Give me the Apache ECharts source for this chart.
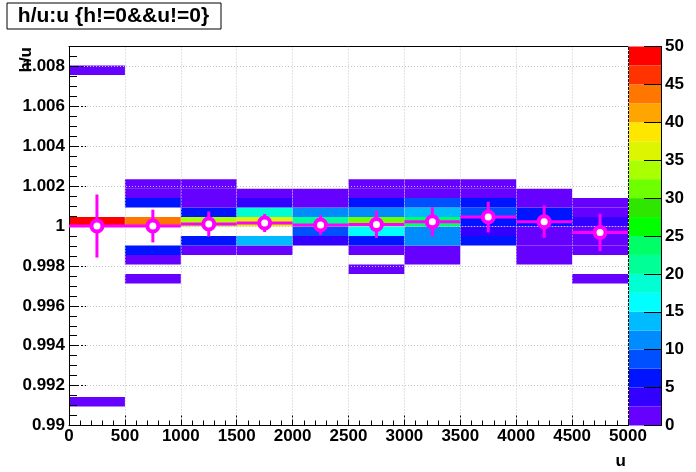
<!DOCTYPE html>
<html><head><meta charset="utf-8">
<script src="https://cdn.jsdelivr.net/npm/echarts@6/dist/echarts.min.js"></script>
<style>html,body{margin:0;padding:0;background:#fff}#c{width:696px;height:472px}</style>
</head><body><div id="c"></div>
<script>
// ---- data ----
const uEdges = [0,500,1000,1500,2000,2500,3000,3500,4000,4500,5000];
const xTickLabels = ['0','500','1000','1500','2000','2500','3000','3500','4000','4500','5000'];
const hMin = 0.99, hMax = 1.009, hBins = 40;
// cells per u-bin: [hBin, count]
const cellsU0 = [[2,1],[21,49],[37,1]];
const cellsU1 = [[15,1],[17,2],[18,6],[21,44],[23,6],[24,1],[25,1]];
const cellsU2 = [[18,1],[19,6],[21,34],[22,6],[23,1],[24,1],[25,1]];
const cellsU3 = [[18,2],[19,14],[21,36],[22,19],[23,4],[24,1]];
const cellsU4 = [[19,4],[20,9],[21,22],[22,11],[23,2],[24,1]];
const cellsU5 = [[16,1],[18,2],[19,6],[20,16],[21,31],[22,11],[23,6],[24,1],[25,1]];
const cellsU6 = [[17,1],[18,2],[19,11],[20,11],[21,23],[22,14],[23,9],[24,1],[25,1]];
const cellsU7 = [[19,6],[20,4],[21,6],[22,9],[23,6],[24,1],[25,1]];
const cellsU8 = [[17,1],[18,1],[19,2],[20,1],[21,6],[22,6],[23,1],[24,1]];
const cellsU9 = [[15,1],[18,1],[19,2],[20,1],[21,4],[22,1],[23,1]];
// profile (mean of h/u per u-bin and its error)
const profMean = [1.0000, 1.0000, 1.0001, 1.00015, 1.00005, 1.00008, 1.00021, 1.00045, 1.00022, 0.99968];
const profErr  = [0.00158, 0.00082, 0.00063, 0.00045, 0.0005, 0.00068, 0.00073, 0.00077, 0.00081, 0.00094];
// colour scale
const zEdges = [0,2.5,5,7.5,10,12.5,15,17.5,20,22.5,25,27.5,30,32.5,35,37.5,40,42.5,45,47.5,50];
const zTickLabels = ['0','5','10','15','20','25','30','35','40','45','50'];
const palette = ['#6600ff','#3300ff','#0014ff','#0050ff','#008cff','#00bbff','#00ffff','#00ffd2','#00ff96','#00ff66',
                 '#00ff00','#2ee600','#6eff00','#aaff00','#ddf500','#ffe600','#ffa500','#ff7700','#ff3300','#ff0000'];

// ---- build ----
const allCells = [cellsU0,cellsU1,cellsU2,cellsU3,cellsU4,cellsU5,cellsU6,cellsU7,cellsU8,cellsU9];
const hStep = (hMax - hMin) / hBins;
const cellData = [];
allCells.forEach((list, i) => list.forEach(([b, n]) => {
  cellData.push([uEdges[i], uEdges[i+1], hMin + b*hStep, hMin + (b+1)*hStep, n]);
}));
const profData = profMean.map((m, i) => [uEdges[i], uEdges[i+1], m, profErr[i]]);
const markerData = profMean.map((m, i) => [(uEdges[i] + uEdges[i+1]) / 2, m]);
const barData = zEdges.slice(0, -1).map((z, i) => [z, zEdges[i+1], i]);
const zMax = zEdges[zEdges.length - 1];
function colorFor(n){ return palette[Math.min(palette.length - 1, Math.floor(n / zMax * palette.length))]; }

const FONT = 'Liberation Sans';
const lbl = {color:'#000', fontFamily:FONT, fontWeight:'bold', fontSize:17};
const chart = echarts.init(document.getElementById('c'), null, {renderer:'canvas'});
chart.setOption({
  animation:false,
  backgroundColor:'#fff',
  grid:[
    {left:69, top:46.5, width:559, height:379, outerBoundsMode:'none', containLabel:false},
    {left:629, top:46.5, width:32, height:379, outerBoundsMode:'none', containLabel:false}
  ],
  xAxis:[
    {type:'value', gridIndex:0, min:0, max:5000, interval:500, position:'bottom', z:4,
     axisLine:{show:true, onZero:false, lineStyle:{color:'#000', width:1}},
     axisTick:{show:true, inside:true, length:11, lineStyle:{color:'#000', type:[2,2]}},
     axisLabel:{...lbl, margin:2, formatter:(v)=>{const i=uEdges.indexOf(v); return i>=0?xTickLabels[i]:'';}},
     splitLine:{show:true, lineStyle:{color:'#c4c4c4', type:[1,2], width:1}}},
    {type:'value', gridIndex:0, min:0, max:5000, interval:100, position:'bottom', z:4,
     axisLine:{show:false, onZero:false}, axisTick:{show:true, inside:true, length:5, lineStyle:{color:'#000'}},
     axisLabel:{show:false}, splitLine:{show:false}},
    {type:'value', gridIndex:0, min:0, max:5000, position:'top', z:4,
     axisLine:{show:true, onZero:false, lineStyle:{color:'#000'}}, axisTick:{show:false}, axisLabel:{show:false}, splitLine:{show:false}},
    {type:'value', gridIndex:1, min:0, max:1, show:false}
  ],
  yAxis:[
    {type:'value', gridIndex:0, min:hMin, max:hMax, interval:0.002, position:'left', z:4,
     axisLine:{show:true, onZero:false, lineStyle:{color:'#000', width:1}},
     axisTick:{show:true, inside:true, length:17, lineStyle:{color:'#000', type:[2,2]}},
     axisLabel:{...lbl, margin:4, showMaxLabel:false, formatter:(v)=>String(+v.toFixed(4))},
     splitLine:{show:true, lineStyle:{color:'#c4c4c4', type:[1,2], width:1}}},
    {type:'value', gridIndex:0, min:hMin, max:hMax, interval:0.0005, position:'left', z:4,
     axisLine:{show:false, onZero:false}, axisTick:{show:true, inside:true, length:8, lineStyle:{color:'#000'}},
     axisLabel:{show:false}, splitLine:{show:false}},
    {type:'value', gridIndex:0, min:hMin, max:hMax, position:'right', z:4,
     axisLine:{show:true, onZero:false, lineStyle:{color:'#000', type:[2,2]}}, axisTick:{show:false}, axisLabel:{show:false}, splitLine:{show:false}},
    {type:'value', gridIndex:1, min:0, max:zMax, interval:5, position:'right', z:4,
     axisLine:{show:true, onZero:false, lineStyle:{color:'#000'}},
     axisTick:{show:true, inside:true, length:17, lineStyle:{color:'#000'}},
     axisLabel:{...lbl, margin:4, formatter:(v)=>{const i=zTickLabels.indexOf(String(v)); return i>=0?zTickLabels[i]:'';}},
     splitLine:{show:false}}
  ],
  series:[
    {type:'custom', name:'cells', xAxisIndex:0, yAxisIndex:0, z:1, data:cellData,
     encode:{x:[0,1], y:[2,3]},
     renderItem:(p, api)=>{
       const a = api.coord([api.value(0), api.value(3)]);
       const b = api.coord([api.value(1), api.value(2)]);
       return {type:'rect', shape:{x:a[0], y:a[1], width:b[0]-a[0], height:b[1]-a[1]},
               style:{fill:colorFor(api.value(4)), stroke:null}};
     }},
    {type:'custom', name:'profile', xAxisIndex:0, yAxisIndex:0, z:6, data:profData,
     encode:{x:[0,1], y:2},
     renderItem:(p, api)=>{
       const u0 = api.value(0), u1 = api.value(1), m = api.value(2), e = api.value(3);
       const l = api.coord([u0, m]), r = api.coord([u1, m]);
       const t = api.coord([(u0+u1)/2, m+e]), b = api.coord([(u0+u1)/2, m-e]);
       const st = {stroke:'#ff00ff', lineWidth:3, fill:null};
       return {type:'group', children:[
         {type:'line', shape:{x1:l[0], y1:l[1], x2:r[0], y2:r[1]}, style:st},
         {type:'line', shape:{x1:t[0], y1:t[1], x2:b[0], y2:b[1]}, style:st}
       ]};
     }},
    {type:'scatter', name:'marker', xAxisIndex:0, yAxisIndex:0, z:7, data:markerData,
     symbol:'circle', symbolSize:11,
     itemStyle:{color:'#ffffff', borderColor:'#ff00ff', borderWidth:4, opacity:1}},
    {type:'custom', name:'palette', xAxisIndex:3, yAxisIndex:3, z:1, data:barData,
     encode:{y:[0,1]},
     renderItem:(p, api)=>{
       const a = api.coord([0, api.value(1)]), b = api.coord([1, api.value(0)]);
       return {type:'rect', shape:{x:a[0], y:a[1], width:b[0]-a[0], height:b[1]-a[1]},
               style:{fill:palette[api.value(2)], stroke:null}};
     }}
  ],
  graphic:[
    {type:'rect', left:6.5, top:2.5, shape:{x:6.5, y:2.5, width:214, height:26}, style:{fill:'#fff', stroke:'#000', lineWidth:1}, z:10},
    {type:'text', x:113.5, y:16, style:{text:'h/u:u {h!=0&&u!=0}', fill:'#000', font:'bold 21px "Liberation Sans"', textAlign:'center', textVerticalAlign:'middle'}, z:11},
    {type:'text', x:626, y:461, style:{text:'u', fill:'#000', font:'bold 17px "Liberation Sans"', textAlign:'right', textVerticalAlign:'middle'}, z:11},
    {type:'text', x:26, y:47, rotation:Math.PI/2, style:{text:'h/u', fill:'#000', font:'bold 17px "Liberation Sans"', textAlign:'right', textVerticalAlign:'middle'}, z:11}
  ]
});
</script></body></html>
